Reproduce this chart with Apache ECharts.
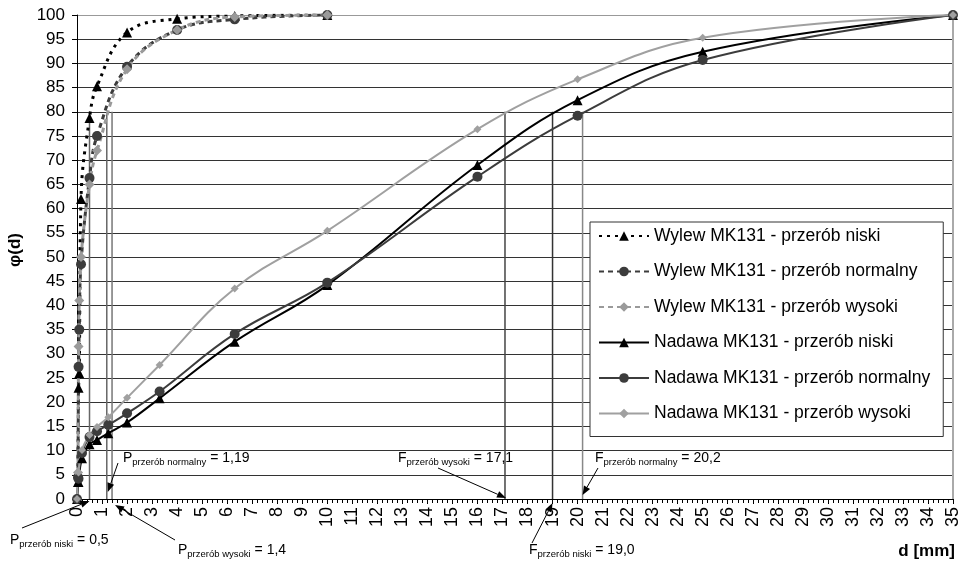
<!DOCTYPE html>
<html>
<head>
<meta charset="utf-8">
<script src="https://cdn.jsdelivr.net/npm/echarts@6/dist/echarts.min.js"></script>
<style>
html, body { margin: 0; padding: 0; background: #fff; }
#chart { width: 963px; height: 566px; }
</style>
</head>
<body>
<div id="chart"></div>
<script>
// sieve sizes d [mm] and cumulative passing phi(d) [%]
const nadawaD = [0, 0.06, 0.2, 0.5, 0.8, 1.25, 2, 3.3, 6.3, 10, 16, 20, 25, 35];
const nadawaNiski = [0, 3.5, 8.4, 11.3, 12.2, 13.6, 15.8, 20.8, 32.5, 44.2, 69.0, 82.4, 92.4, 100];
const nadawaNormalny = [0, 4.2, 9.5, 12.8, 14.0, 15.3, 17.7, 22.2, 34.1, 44.7, 66.6, 79.2, 90.7, 100];
const nadawaWysoki = [0, 5.5, 10.1, 13.2, 14.9, 16.9, 20.9, 27.7, 43.5, 55.4, 76.4, 86.7, 95.3, 100];

const wylewD = [0.04, 0.063, 0.09, 0.16, 0.5, 0.8, 2, 4, 6.3, 10];
const wylewNiski = [3.5, 23, 26, 62, 78.7, 85.3, 96.4, 99.2, 99.8, 100];
const wylewNormalny = [4.5, 27.3, 35, 48.5, 66.3, 75, 89.3, 96.9, 99.1, 100];
const wylewWysoki = [5.5, 31.5, 41, 50, 65, 72, 88.8, 96.9, 99.6, 100];

// characteristic sizes marked on the chart
const markD = [0.5, 1.19, 1.4, 17.1, 19.0, 20.2];
const markLevel = 80;
const markLetter = ['P', 'P', 'P', 'F', 'F', 'F'];
const markSub = ['przerób niski', 'przerób normalny', 'przerób wysoki', 'przerób wysoki', 'przerób niski', 'przerób normalny'];
const markText = ['0,5', '1,19', '1,4', '17,1', '19,0', '20,2'];

const names = [
    'Wylew MK131 - przerób niski',
    'Wylew MK131 - przerób normalny',
    'Wylew MK131 - przerób wysoki',
    'Nadawa MK131 - przerób niski',
    'Nadawa MK131 - przerób normalny',
    'Nadawa MK131 - przerób wysoki'
];

const FONT = 'Arial, "Liberation Sans", sans-serif';

function pts(xs, ys) {
    return xs.map((x, i) => [x, ys[i]]);
}

function curve(name, xs, ys, color, symbol, size, width, type) {
    return {
        name: name,
        type: 'line',
        data: pts(xs, ys),
        smooth: 0.4,
        symbol: symbol,
        symbolSize: size,
        itemStyle: { color: color },
        lineStyle: { color: color, width: width, type: type },
        z: 5
    };
}

const markColors = ['#666', '#666', '#777', '#444', '#333', '#888'];
const markSeries = markD.map((d, i) => ({
    type: 'line',
    data: [[d, 0], [d, markLevel]],
    symbol: 'none',
    silent: true,
    lineStyle: { color: markColors[i], width: 1.5 },
    z: 3
}));

const gridColors = [];
for (let i = 0; i <= 20; i++) gridColors.push(i === 20 ? '#999' : '#333');
const vColors = [];
for (let i = 0; i <= 35; i++) vColors.push(i === 35 ? '#aaa' : 'rgba(0,0,0,0)');

const chart = echarts.init(document.getElementById('chart'));
chart.setOption({
    animation: false,
    backgroundColor: '#fff',
    textStyle: { fontFamily: FONT },
    grid: { left: 77, right: 10, top: 15, bottom: 67, containLabel: false },
    legend: {
        data: names,
        orient: 'vertical',
        left: 590,
        top: 222,
        itemWidth: 50,
        itemHeight: 12,
        itemGap: 17.5,
        padding: [5, 13, 14, 8],
        backgroundColor: '#fff',
        borderColor: '#333',
        borderWidth: 1,
        textStyle: { fontSize: 17.5, lineHeight: 18, color: '#000', fontFamily: FONT }
    },
    xAxis: {
        type: 'value',
        min: 0,
        max: 35,
        interval: 1,
        axisLine: { onZero: false, lineStyle: { color: '#000', width: 1 } },
        axisTick: { show: true, length: 5, lineStyle: { color: '#000' } },
        minorTick: { show: true, splitNumber: 5, length: 4, lineStyle: { color: '#000' } },
        splitLine: { show: true, lineStyle: { color: vColors, width: 2 } },
        axisLabel: { rotate: 90, margin: 8, fontSize: 18, color: '#000', fontFamily: FONT }
    },
    yAxis: {
        type: 'value',
        min: 0,
        max: 100,
        interval: 5,
        axisLine: { show: true, lineStyle: { color: '#000', width: 1 } },
        axisTick: { show: true, length: 5, lineStyle: { color: '#000' } },
        splitLine: { show: true, lineStyle: { color: gridColors, width: 1 } },
        axisLabel: { margin: 12, fontSize: 17, color: '#000', fontFamily: FONT }
    },
    series: markSeries.concat([
        curve(names[0], wylewD, wylewNiski, '#000', 'triangle', 10, 3, [3, 5]),
        curve(names[1], wylewD, wylewNormalny, '#3c3c3c', 'circle', 10, 3, [5, 4]),
        curve(names[2], wylewD, wylewWysoki, '#9a9a9a', 'diamond', 10, 3, [5, 4]),
        curve(names[3], nadawaD, nadawaNiski, '#000', 'triangle', 10, 2, 'solid'),
        curve(names[4], nadawaD, nadawaNormalny, '#3c3c3c', 'circle', 10, 2, 'solid'),
        curve(names[5], nadawaD, nadawaWysoki, '#a0a0a0', 'diamond', 8, 2, 'solid')
    ])
});

// annotation layout: label box top-left, arrow start, tip offset from axis point
const annoLayout = [
    { left: 10, top: 533, from: [22, 528], dx: 0, dy: 2 },
    { left: 123, top: 451, from: [118, 463], dx: 1, dy: -7 },
    { left: 178, top: 543, from: [175, 540], dx: 3, dy: 6 },
    { left: 398, top: 451, from: [438, 468], dx: 1, dy: -1 },
    { left: 529, top: 543, from: [532, 543], dx: 0, dy: 4 },
    { left: 595, top: 451, from: [598, 468], dx: 0, dy: -4 }
];

function arrow(x1, y1, x2, y2) {
    const a = Math.atan2(y2 - y1, x2 - x1);
    const L = 9, W = 3.5;
    const bx = x2 - L * Math.cos(a), by = y2 - L * Math.sin(a);
    const px = -Math.sin(a) * W, py = Math.cos(a) * W;
    return [
        { type: 'line', silent: true, z: 20, shape: { x1: x1, y1: y1, x2: bx, y2: by }, style: { stroke: '#000', lineWidth: 1 } },
        { type: 'polygon', silent: true, z: 20, shape: { points: [[x2, y2], [bx + px, by + py], [bx - px, by - py]] }, style: { fill: '#000' } }
    ];
}

const graphics = [];
markD.forEach((d, i) => {
    const lay = annoLayout[i];
    const p = chart.convertToPixel({ gridIndex: 0 }, [d, 0]);
    graphics.push({
        type: 'text',
        left: lay.left,
        top: lay.top,
        z: 20,
        style: {
            text: '{m|' + markLetter[i] + '}{s|' + markSub[i] + '}{m| = ' + markText[i] + '}',
            fill: '#000',
            rich: {
                m: { fontSize: 14, lineHeight: 14, verticalAlign: 'top', fontFamily: FONT, fill: '#000' },
                s: { fontSize: 9.5, lineHeight: 23, fontFamily: FONT, fill: '#000' }
            }
        }
    });
    arrow(lay.from[0], lay.from[1], p[0] + lay.dx, p[1] + lay.dy).forEach(g => graphics.push(g));
});

graphics.push({
    type: 'text', right: 8, top: 543,
    style: { text: 'd [mm]', font: 'bold 17px ' + FONT, fill: '#000' }
});
graphics.push({
    type: 'text', x: 15, y: 250, rotation: Math.PI / 2,
    style: { text: 'φ(d)', font: 'bold 17px ' + FONT, fill: '#000', align: 'center', verticalAlign: 'middle' }
});

chart.setOption({ graphic: graphics });
</script>
</body>
</html>
